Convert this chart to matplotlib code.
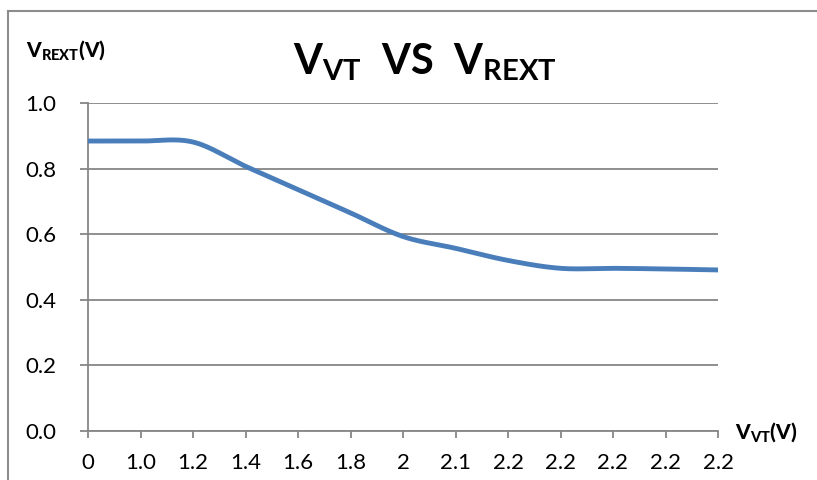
import numpy as np
import matplotlib.pyplot as plt
from matplotlib.lines import Line2D

plt.rcParams['font.family'] = ['Lato', 'DejaVu Sans']
plt.rcParams['mathtext.fontset'] = 'custom'
plt.rcParams['mathtext.rm'] = 'Lato:bold'
plt.rcParams['mathtext.bf'] = 'Lato:black'

# data
vt_labels = ['0', '1.0', '1.2', '1.4', '1.6', '1.8', '2', '2.1', '2.2', '2.2', '2.2', '2.2', '2.2']
vrext = [0.884, 0.884, 0.881, 0.807, 0.736, 0.665, 0.593, 0.557, 0.520, 0.496, 0.496, 0.494, 0.491]
y_ticks = [0.0, 0.2, 0.4, 0.6, 0.8, 1.0]

LINE_COLOR = '#4A7EBB'
GRID_COLOR = '#868686'


def smooth_line(y, n=30):
    # catmull-rom spline, like excel's "smoothed line"
    y = np.asarray(y, dtype=float)
    x = np.arange(len(y), dtype=float)
    px = np.concatenate([[x[0]], x, [x[-1]]])
    py = np.concatenate([[y[0]], y, [y[-1]]])
    xs, ys = [], []
    for i in range(1, len(px) - 2):
        t = np.linspace(0, 1, n, endpoint=False)
        for arr, out in ((px, xs), (py, ys)):
            p0, p1, p2, p3 = arr[i - 1], arr[i], arr[i + 1], arr[i + 2]
            out.extend(0.5 * ((2 * p1) + (-p0 + p2) * t
                              + (2 * p0 - 5 * p1 + 4 * p2 - p3) * t ** 2
                              + (-p0 + 3 * p1 - 3 * p2 + p3) * t ** 3))
    xs.append(x[-1])
    ys.append(y[-1])
    return np.array(xs), np.array(ys)


fig = plt.figure(figsize=(8.17, 4.80), dpi=100)
ax = fig.add_axes([88 / 817, 1 - 431 / 480, 630 / 817, 328 / 480])

sx, sy = smooth_line(vrext)
ax.plot(sx, sy, color=LINE_COLOR, lw=3.5, solid_capstyle='round', zorder=3)

ax.set_xlim(0, len(vt_labels) - 1)
ax.set_ylim(0, 1.0)
ax.set_xticks(range(len(vt_labels)))
ax.set_xticklabels(vt_labels)
ax.set_yticks(y_ticks)
ax.set_yticklabels(['%.1f' % v for v in y_ticks])
ax.grid(axis='y', color=GRID_COLOR, lw=1.3)
ax.set_axisbelow(True)

for s in ['top', 'right']:
    ax.spines[s].set_visible(False)
for s in ['left', 'bottom']:
    ax.spines[s].set_color(GRID_COLOR)
    ax.spines[s].set_linewidth(1.3)
ax.tick_params(axis='both', colors=GRID_COLOR, width=1.3, labelsize=16,
               labelcolor='black')
ax.tick_params(axis='x', length=5, pad=11)
ax.tick_params(axis='y', length=6, pad=17)

fig.text(425 / 817, 1 - 62 / 480, r'$\mathrm{V_{VT}\ \,VS\ \,V_{REXT}}$', fontsize=30,
         ha='center', va='center')
fig.text(26 / 817, 1 - 50 / 480, r'$\mathbf{V_{REXT}(V)}$', fontsize=15,
         ha='left', va='center')
fig.text(735 / 817, 1 - 432 / 480, r'$\mathbf{V_{VT}(V)}$', fontsize=15,
         ha='left', va='center')

# chart area border
fig.add_artist(Line2D([8 / 817, 8 / 817], [0, 1 - 11 / 480], color='#8c8c8c', lw=1.5))
fig.add_artist(Line2D([8 / 817, 1], [1 - 11 / 480, 1 - 11 / 480], color='#8c8c8c', lw=1.5))

fig.savefig('out.png', dpi=100)
